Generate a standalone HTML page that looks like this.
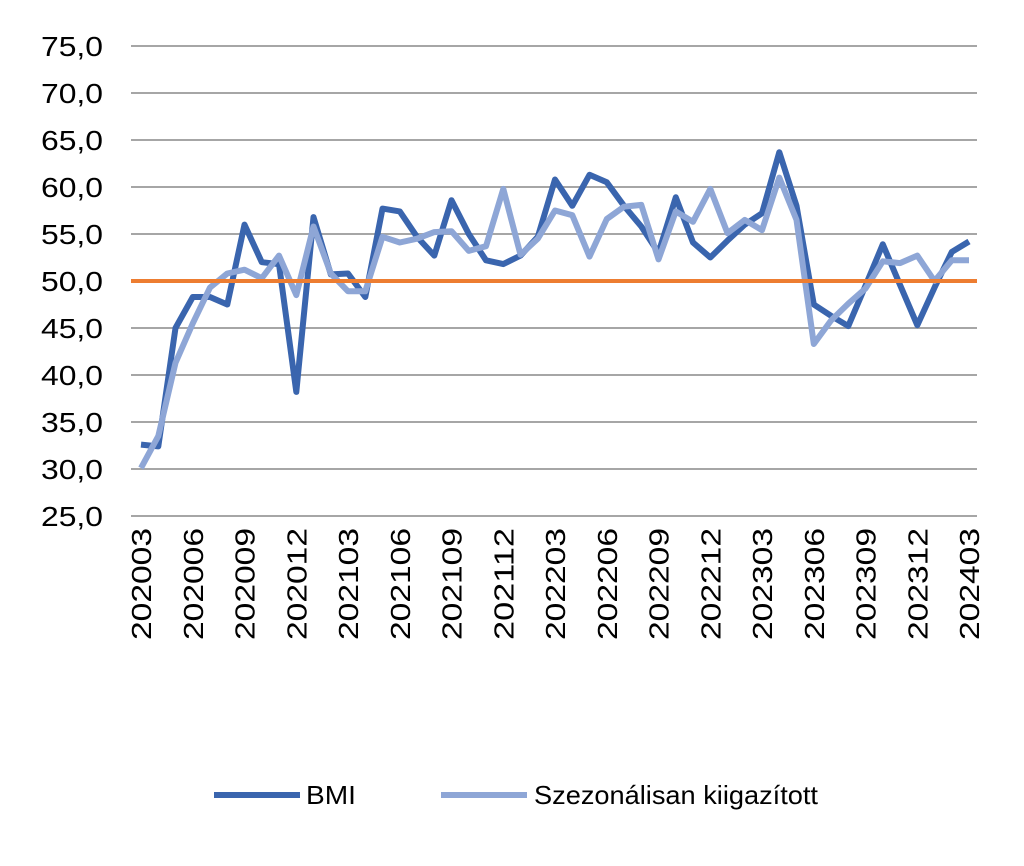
<!DOCTYPE html><html><head><meta charset="utf-8"><style>body{margin:0;background:#fff}svg{display:block}text{font-family:"Liberation Sans",sans-serif;fill:#000}</style></head><body>
<svg id="s" width="1024" height="866" xmlns="http://www.w3.org/2000/svg"></svg>
<script>
const s=document.getElementById('s');let h='';
const Y=v=>516-(v-25)*9.4, X=i=>141+17.25*i;
for(let v=25;v<=75;v+=5){h+=`<line x1="131" x2="977" y1="${Y(v)}" y2="${Y(v)}" stroke="#a6a6a6" stroke-width="2"/>`;
h+=`<text x="103" y="${Y(v)+10}" font-size="28" text-anchor="end" textLength="62" lengthAdjust="spacingAndGlyphs">${v.toFixed(1).replace('.',',')}</text>`;}
const L=['202003','202006','202009','202012','202103','202106','202109','202112','202203','202206','202209','202212','202303','202306','202309','202312','202403'];
L.forEach((l,k)=>{const x=X(k*3)+10;h+=`<text transform="translate(${x},528) rotate(-90)" font-size="28" text-anchor="end" textLength="112" lengthAdjust="spacingAndGlyphs">${l}</text>`;});
const b=[32.6,32.4,45,48.3,48.3,47.5,56,52,51.8,38.2,56.8,50.7,50.8,48.3,57.7,57.4,54.7,52.7,58.6,55,52.2,51.8,52.7,54.7,60.8,58,61.3,60.5,58,55.8,53,58.9,54.1,52.5,54.3,56,57.2,63.7,58,47.5,46.3,45.2,49.5,53.9,49.6,45.3,49.3,53.1,54.2];
const a=[30.1,33.5,41.3,45.5,49.3,50.8,51.2,50.3,52.7,48.5,55.8,50.8,48.9,48.9,54.7,54.1,54.5,55.2,55.3,53.2,53.7,59.8,52.8,54.5,57.5,57,52.6,56.6,57.9,58.1,52.3,57.4,56.3,59.8,55.1,56.5,55.4,61,56.5,43.3,45.8,47.6,49.2,52.1,51.9,52.7,50,52.2,52.2];
const P=d=>d.map((v,i)=>X(i).toFixed(1)+','+Y(v).toFixed(1)).join(' ');
h+=`<polyline points="${P(b)}" fill="none" stroke="#3a65ae" stroke-width="6" stroke-linejoin="round"/>`;
h+=`<polyline points="${P(a)}" fill="none" stroke="#8ea6d6" stroke-width="6" stroke-linejoin="round"/>`;
h+=`<line x1="131" x2="977" y1="${Y(50)}" y2="${Y(50)}" stroke="#ed7d31" stroke-width="4"/>`;
h+=`<line x1="214" x2="300" y1="795" y2="795" stroke="#3a65ae" stroke-width="6"/><text x="306" y="804" font-size="26" textLength="50" lengthAdjust="spacingAndGlyphs">BMI</text>`;
h+=`<line x1="441" x2="527" y1="795" y2="795" stroke="#8ea6d6" stroke-width="6"/><text x="534" y="804" font-size="26" textLength="284" lengthAdjust="spacingAndGlyphs">Szezonálisan kiigazított</text>`;
s.innerHTML=h;
</script></body></html>
